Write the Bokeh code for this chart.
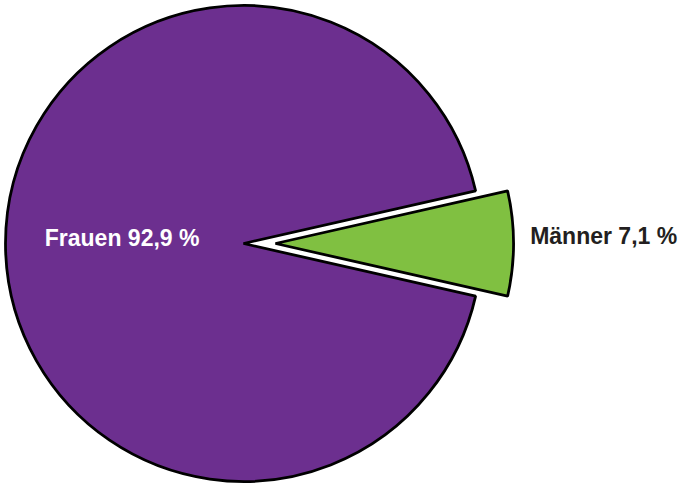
import math
from bokeh.plotting import figure
from bokeh.models import ColumnDataSource, Range1d
from bokeh.embed import file_html
from bokeh.resources import INLINE
from bokeh.core.properties import value

labels = ["Frauen", "Männer"]
shares = [92.9, 7.1]
label_texts = ["Frauen 92,9 %", "Männer 7,1 %"]
colors = ["#6c2f8f", "#80c041"]
text_colors = ["#ffffff", "#231f20"]
exploded = [0, 1]

W, H = 683, 488
cx, cy = 243, 245   # pie centre in plot pixels (y up)
R = 238
EXPLODE = 32

total = sum(shares)
start0 = -math.pi * shares[1] / total
starts, ends, xs, ys = [], [], [], []
acc = start0
order = [1, 0]
angles = {}
for i in order:
    a0 = acc
    a1 = acc + 2 * math.pi * shares[i] / total
    angles[i] = (a0, a1)
    acc = a1

for i in range(len(labels)):
    a0, a1 = angles[i]
    mid = (a0 + a1) / 2
    off = EXPLODE * exploded[i]
    starts.append(a0)
    ends.append(a1)
    xs.append(cx + off * math.cos(mid))
    ys.append(cy + off * math.sin(mid))

src = ColumnDataSource(dict(x=xs, y=ys, start=starts, end=ends, color=colors))

p = figure(width=W, height=H, output_backend="svg", toolbar_location=None,
           x_range=Range1d(0, W), y_range=Range1d(0, H),
           min_border=0, outline_line_color=None)
p.axis.visible = False
p.grid.visible = False
p.background_fill_color = "white"

p.wedge(x="x", y="y", radius=R, radius_units="screen", start_angle="start",
        end_angle="end", fill_color="color", line_color="black", line_width=2.8,
        source=src)

# labels
lx, ly, align = [], [], []
for i in range(len(labels)):
    a0, a1 = angles[i]
    mid = (a0 + a1) / 2
    if exploded[i]:
        lx.append(xs[i] + 1.07 * R * math.cos(mid))
        ly.append(ys[i] + 1.07 * R * math.sin(mid) + 8)
        align.append("left")
    else:
        lx.append(cx + 0.51 * R * math.cos(mid))
        ly.append(cy + 0.51 * R * math.sin(mid) + 6)
        align.append("center")

lsrc = ColumnDataSource(dict(x=lx, y=ly, t=label_texts, c=text_colors, a=align))
p.text(x="x", y="y", text="t", text_color="c", text_align="a",
       text_baseline="middle", text_font=value("Liberation Sans"),
       text_font_style="bold", text_font_size="23px", source=lsrc)

open("out.html", "w").write(file_html(p, INLINE))
